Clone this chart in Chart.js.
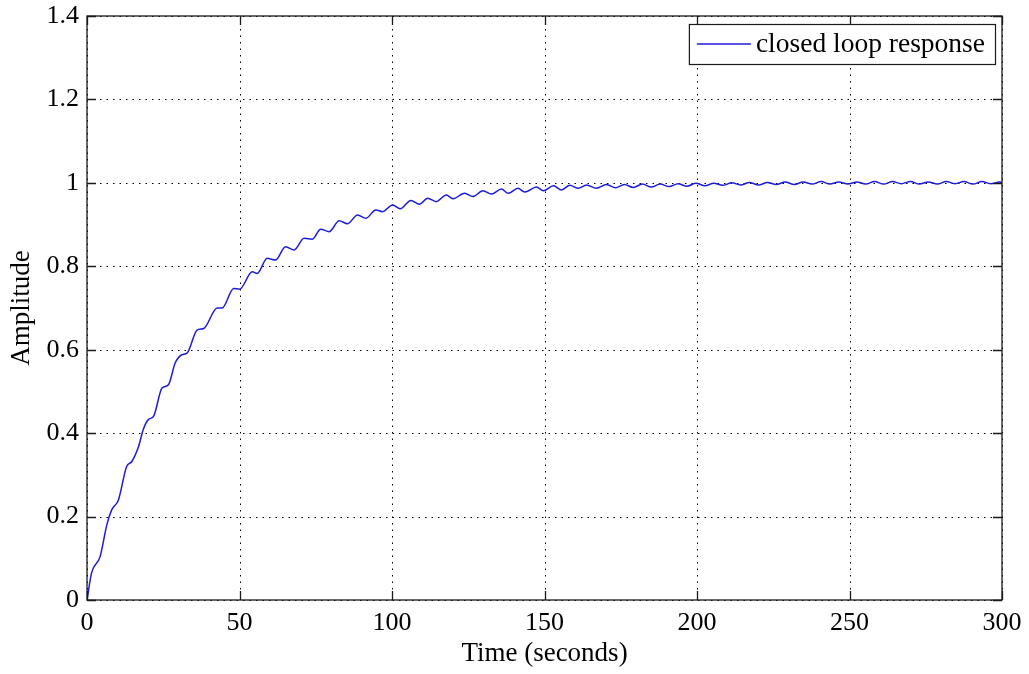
<!DOCTYPE html>
<html>
<head>
<meta charset="utf-8">
<script src="https://cdn.jsdelivr.net/npm/chart.js@4.4.1/dist/chart.umd.min.js"></script>
<style>
  html, body { margin: 0; padding: 0; background: #fff; }
  #wrap { width: 1029px; height: 674px; }
</style>
</head>
<body>
<div id="wrap"><canvas id="step"></canvas></div>
<script>
// closed loop step response, sampled off the trace
const timeSec = [
  0, 1.5, 4.3, 6.5, 8.1, 10.3, 13.0, 14.7, 16.9, 18.5,
  20.2, 21.8, 24.6, 26.7, 28.9, 31.1, 32.8, 36.1, 38.3, 42.7,
  44.3, 48.1, 50.0, 54.2, 55.8, 59.1, 61.8, 65.1, 67.9, 71.2,
  73.9, 76.6, 79.4, 82.7, 85.4, 88.7, 91.4, 94.7, 96.9, 100.2,
  102.7, 106.2, 109.0, 111.7, 114.5, 117.8, 120.0, 123.8, 126.5, 129.8,
  132.6, 135.9, 138.1, 141.3, 143.5, 147.4, 149.6, 152.9, 155.6, 158.3,
  161.1, 163.8, 167.0, 170.3, 173.3, 176.2, 179.1, 182.1, 185.0, 187.9,
  190.9, 193.8, 196.7, 199.6, 202.6, 205.5, 208.4, 211.4, 214.3, 217.2,
  220.2, 223.1, 226.0, 228.9, 231.9, 234.8, 237.7, 240.7, 243.6, 246.5,
  249.5, 252.4, 255.3, 258.2, 261.2, 264.1, 267.0, 270.0, 272.9, 275.8,
  278.8, 281.7, 284.6, 287.5, 290.5, 293.4, 296.3, 299.3, 300
];
const amplitude = [
  0, 0.065, 0.104, 0.18, 0.216, 0.24, 0.32, 0.332, 0.368, 0.41,
  0.433, 0.44, 0.508, 0.516, 0.568, 0.588, 0.592, 0.647, 0.651, 0.70,
  0.70, 0.747, 0.745, 0.787, 0.783, 0.819, 0.815, 0.847, 0.839, 0.867,
  0.865, 0.889, 0.883, 0.909, 0.902, 0.923, 0.915, 0.935, 0.931, 0.947,
  0.938, 0.958, 0.949, 0.963, 0.955, 0.971, 0.962, 0.975, 0.967, 0.981,
  0.973, 0.985, 0.975, 0.987, 0.978, 0.990, 0.981, 0.993, 0.983, 0.994,
  0.987, 0.995, 0.987, 0.996, 0.988, 0.996, 0.989, 0.997, 0.990, 0.997,
  0.991, 0.998, 0.992, 0.999, 0.993, 0.999, 0.994, 1.000, 0.995, 1.001,
  0.995, 1.001, 0.996, 1.002, 0.996, 1.002, 0.997, 1.003, 0.997, 1.002,
  0.997, 1.002, 0.997, 1.003, 0.997, 1.003, 0.998, 1.003, 0.997, 1.002,
  0.997, 1.003, 0.998, 1.003, 0.997, 1.003, 0.998, 1.002, 1.001
];

const xTickValues = [0, 50, 100, 150, 200, 250, 300];
const xTickLabels = ['0', '50', '100', '150', '200', '250', '300'];
const yTickValues = [0, 0.2, 0.4, 0.6, 0.8, 1, 1.2, 1.4];
const yTickLabels = ['0', '0.2', '0.4', '0.6', '0.8', '1', '1.2', '1.4'];

const seriesLabel = 'closed loop response';
const lineBlue = '#1d1dd8';
const axisInk = '#1a1a1a';
const serif = '"Liberation Serif", "Times New Roman", serif';
const fontPx = 26;

// dotted grid under the trace, box + inward ticks + boxed legend on top
const matlabAxes = {
    id: 'matlabAxes',
    beforeDatasetsDraw(chart) {
        const { ctx, chartArea: a, scales } = chart;
        ctx.save();
        ctx.strokeStyle = '#000';
        ctx.lineWidth = 1;
        ctx.setLineDash([1.5, 5]);
        xTickValues.forEach(v => {
            const x = Math.round(scales.x.getPixelForValue(v)) + 0.5;
            ctx.beginPath();
            ctx.moveTo(x, a.top);
            ctx.lineTo(x, a.bottom);
            ctx.stroke();
        });
        yTickValues.forEach(v => {
            const y = Math.round(scales.y.getPixelForValue(v)) + 0.5;
            ctx.beginPath();
            ctx.moveTo(a.left, y);
            ctx.lineTo(a.right, y);
            ctx.stroke();
        });
        ctx.restore();
    },
    afterDatasetsDraw(chart) {
        const { ctx, chartArea: a, scales } = chart;
        const tick = 9;
        ctx.save();
        ctx.strokeStyle = axisInk;
        ctx.lineWidth = 1.3;
        ctx.setLineDash([]);
        ctx.strokeRect(a.left, a.top, a.right - a.left, a.bottom - a.top);

        ctx.beginPath();
        xTickValues.forEach(v => {
            const x = Math.round(scales.x.getPixelForValue(v)) + 0.5;
            ctx.moveTo(x, a.bottom);
            ctx.lineTo(x, a.bottom - tick);
            ctx.moveTo(x, a.top);
            ctx.lineTo(x, a.top + tick);
        });
        yTickValues.forEach(v => {
            const y = Math.round(scales.y.getPixelForValue(v)) + 0.5;
            ctx.moveTo(a.left, y);
            ctx.lineTo(a.left + tick, y);
            ctx.moveTo(a.right, y);
            ctx.lineTo(a.right - tick, y);
        });
        ctx.stroke();

        // legend box, upper right corner
        const label = chart.data.datasets[0].label;
        ctx.font = `27.5px ${serif}`;
        const tw = ctx.measureText(label).width;
        const boxH = 40;
        const lineLen = 54;
        const boxW = 8 + lineLen + 5 + tw + 10;
        const bx = a.right - 7 - boxW;
        const by = a.top + 8;
        ctx.fillStyle = '#fff';
        ctx.fillRect(bx, by, boxW, boxH);
        ctx.lineWidth = 1.2;
        ctx.strokeStyle = axisInk;
        ctx.strokeRect(bx + 0.5, by + 0.5, boxW, boxH);
        ctx.beginPath();
        ctx.strokeStyle = lineBlue;
        ctx.lineWidth = 1.5;
        ctx.moveTo(bx + 8, by + boxH / 2);
        ctx.lineTo(bx + 8 + lineLen, by + boxH / 2);
        ctx.stroke();
        ctx.fillStyle = '#000';
        ctx.textBaseline = 'middle';
        ctx.fillText(label, bx + 8 + lineLen + 5, by + boxH / 2 + 1);
        ctx.restore();
    }
};

new Chart(document.getElementById('step'), {
    type: 'line',
    plugins: [matlabAxes],
    data: {
        datasets: [{
            label: seriesLabel,
            data: timeSec.map((t, i) => ({ x: t, y: amplitude[i] })),
            borderColor: lineBlue,
            borderWidth: 1.5,
            pointRadius: 0,
            cubicInterpolationMode: 'monotone',
            fill: false
        }]
    },
    options: {
        responsive: true,
        maintainAspectRatio: false,
        animation: false,
        layout: { padding: { top: 16, right: 27, left: 0, bottom: 0 } },
        plugins: {
            legend: { display: false },
            tooltip: { enabled: false }
        },
        scales: {
            x: {
                type: 'linear',
                min: 0,
                max: 300,
                afterBuildTicks: s => { s.ticks = xTickValues.map(v => ({ value: v })); },
                afterFit: s => {
                    s.height = 74;
                    s.paddingLeft = 0;
                    s.paddingRight = 0;
                },
                grid: { display: false },
                border: { display: false },
                ticks: {
                    color: '#000',
                    padding: 0,
                    maxRotation: 0,
                    font: { family: serif, size: fontPx },
                    callback: v => xTickLabels[xTickValues.indexOf(v)]
                },
                title: {
                    display: true,
                    text: 'Time (seconds)',
                    color: '#000',
                    font: { family: serif, size: 27 },
                    padding: { top: 0, bottom: 4 }
                }
            },
            y: {
                type: 'linear',
                min: 0,
                max: 1.4,
                afterBuildTicks: s => { s.ticks = yTickValues.map(v => ({ value: v })); },
                afterFit: s => {
                    s.width = 87;
                    s.paddingTop = 0;
                    s.paddingBottom = 0;
                },
                grid: { display: false },
                border: { display: false },
                ticks: {
                    color: '#000',
                    padding: 0,
                    font: { family: serif, size: fontPx },
                    callback: v => yTickLabels[yTickValues.findIndex(t => Math.abs(t - v) < 1e-9)]
                },
                title: {
                    display: true,
                    text: 'Amplitude',
                    color: '#000',
                    font: { family: serif, size: 27 },
                    padding: { top: 6, bottom: 0 }
                }
            }
        }
    }
});
</script>
</body>
</html>
